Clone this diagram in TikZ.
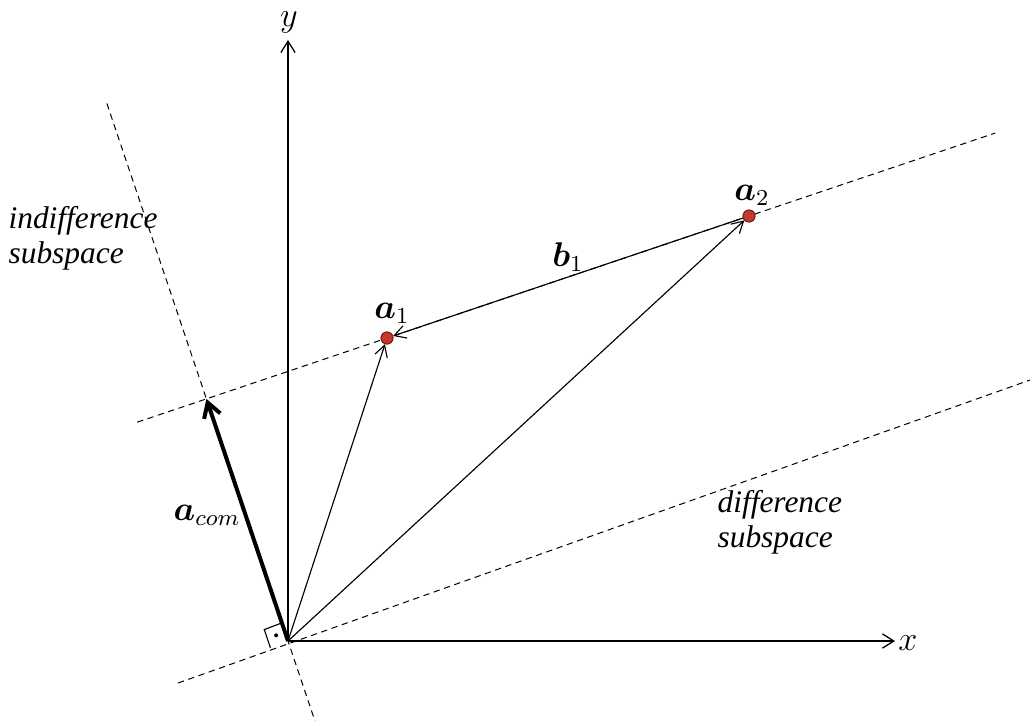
\documentclass[tikz,border=0pt]{standalone}
\usepackage{amsmath,bm,fontspec}
\setmainfont{Liberation Serif}
\usetikzlibrary{arrows.meta,calc}
\definecolor{dotred}{HTML}{C33A2C}
\definecolor{dotrim}{HTML}{7A1A12}
\tikzset{axis/.style={-{Straight Barb[length=4pt,width=5pt]},line width=0.45pt}, vec/.style={-{Straight Barb[length=4pt,width=4.5pt]},line width=0.4pt}, bigvec/.style={-{Straight Barb[length=5pt,width=6pt]},line width=1.4pt}, guide/.style={dashed,dash pattern=on 2.2pt off 1.6pt,line width=0.35pt}, pt/.style={circle,fill=dotred,draw=dotrim,line width=0.3pt,inner sep=0pt,minimum size=4.2pt}, lbl/.style={font=\large,inner sep=1pt}, note/.style={font=\itshape\fontsize{11}{12.3}\selectfont,align=left,anchor=west,inner sep=0pt}}

\begin{document}
\begin{tikzpicture}[x=0.35pt,y=-0.35pt]
\useasboundingbox (0,0) rectangle (1034,725);
% points
\coordinate (O) at (288,641);
\node[pt] (a1) at (387,338) {};
\node[pt] (a2) at (749,216) {};
\coordinate (acom) at ($(a1)!(O)!(a2)$);
% ends of the dashed lines
\coordinate (u1) at ($(a1)!-0.69!(a2)$); \coordinate (u2) at ($(a1)!1.68!(a2)$);
\coordinate (l1) at (178,683); \coordinate (l2) at (1030,380);
\coordinate (p1) at ($(O)!2.22!(acom)$); \coordinate (p2) at ($(O)!-0.33!(acom)$);
\coordinate (xend) at (895,641); \coordinate (yend) at (288,40);
\draw[guide] (u1)--(u2);
\draw[guide] (l1)--(l2);
\draw[guide] (p1)--(p2);
% axes
\draw[axis] (O)--(xend);
\draw[axis] (O)--(yend);
\node[lbl] (xl) at (908,643) {$x$};
\node[lbl] (yl) at (289,22) {$y$};
% right angle
\coordinate (r1) at ($(O)!0.075!(acom)$);
\coordinate (r2) at ($(O)!0.16!(l1)$);
\draw[line width=0.4pt] (r1)--($(r1)+(r2)-(O)$)--(r2);
\fill ($(O)!0.5!($(r1)+(r2)-(O)$)$) circle (0.7pt);
% vectors
\draw[vec] (O)--(a1);
\draw[vec] (O)--(a2);
\draw[vec] (a2)--(a1);
\draw[bigvec] (O)--(acom);
\node[pt] at (a1) {};
\node[pt] at (a2) {};
% labels
\node[lbl] (a1l) at (392,313) {$\bm{a}_1$};
\node[lbl] (a2l) at (752,195) {$\bm{a}_2$};
\node[lbl] (b1l) at (568,257) {$\bm{b}_1$};
\node[lbl] (acl) at (207,515) {$\bm{a}_{com}$};
\node[note] (ind) at (8,238) {indifference\\subspace};
\node[note] (dif) at (717,522) {difference\\subspace};
\end{tikzpicture}
\end{document}
